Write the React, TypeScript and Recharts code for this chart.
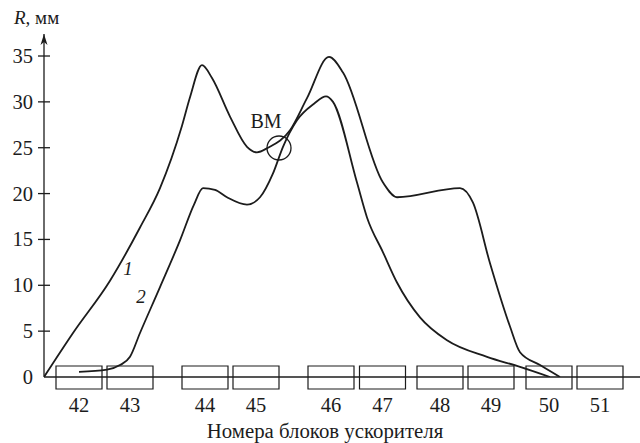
import React from 'react';
import { ComposedChart, Line, XAxis, YAxis, ReferenceArea, ReferenceDot } from 'recharts';

// Block numbers of the accelerator and their positions along the horizontal axis
const blockNumbers = [42, 43, 44, 45, 46, 47, 48, 49, 50, 51];
const blockPositions = [3.5, 8.6, 16.1, 21.2, 28.7, 33.85, 39.6, 44.7, 50.5, 55.6];
const blockHalfWidth = 2.3;
const blockBottom = -1.31;
const blockTop = 1.2;

const yTicks = [0, 5, 10, 15, 20, 25, 30, 35];

// Curve 1
const curve1X = [0, 2.9, 6.6, 9.6, 11.6, 13.8, 14.6, 15.8, 16.8, 18.6, 20.3, 21.3, 22.4, 24.6, 26.3, 28.5, 29.9, 33.9, 35.3, 41.6, 42.9, 44.6, 46.6, 47.6, 49.6, 51.6];
const curve1Y = [0, 4.8, 10.5, 16.3, 20.6, 27.4, 30.5, 34.0, 32.6, 28.4, 25.1, 24.5, 25.0, 26.9, 30.4, 34.9, 33.2, 21.2, 19.6, 20.6, 19.0, 12.4, 5.5, 2.7, 1.3, 0];

// Curve 2
const curve2X = [3.5, 6.3, 7.6, 8.6, 9.6, 11.6, 13.6, 15.0, 15.9, 17.1, 18.3, 20.3, 21.6, 22.9, 23.9, 25.3, 27.0, 28.2, 28.9, 31.3, 32.3, 33.9, 35.3, 37.6, 40.3, 44.3, 47.6, 50.6];
const curve2Y = [0.55, 0.8, 1.3, 2.2, 4.8, 9.8, 14.9, 18.8, 20.6, 20.4, 19.6, 18.8, 19.6, 22.2, 25.1, 28.0, 29.8, 30.6, 30.0, 21.2, 17.4, 13.6, 10.3, 6.5, 4.0, 2.2, 1.1, 0];

const curve1 = curve1X.map((x, i) => ({ x, y: curve1Y[i] }));
const curve2 = curve2X.map((x, i) => ({ x, y: curve2Y[i] }));

const FONT = 'Liberation Serif';
const INK = '#1c1c1c';
const textStyle = { fontFamily: FONT };

const XTick = (props: any) => {
  const { x, y, payload } = props;
  const idx = blockPositions.indexOf(payload.value);
  return (
    <text x={x} y={y + 35} textAnchor="middle" style={textStyle} fontSize={20.5} fill={INK}>
      {idx >= 0 ? blockNumbers[idx] : ''}
    </text>
  );
};

const YTick = (props: any) => {
  const { x, y, payload } = props;
  return (
    <g>
      {payload.value !== 0 && <line x1={x - 6} x2={x + 6} y1={y} y2={y} stroke={INK} strokeWidth={1.3} />}
      <text x={x - 11} y={y + 7} textAnchor="end" style={textStyle} fontSize={20.5} fill={INK}>
        {payload.value}
      </text>
    </g>
  );
};

export default function App() {
  return (
    <div style={{ position: 'absolute', left: 0, top: 0, width: 640, height: 443, background: '#fff' }}>
      <ComposedChart width={640} height={443} margin={{ top: 34, right: 0, bottom: 0, left: 0 }}>
        <XAxis
          type="number"
          dataKey="x"
          domain={[0, 59.6]}
          ticks={blockPositions}
          interval={0}
          height={66}
          axisLine={{ stroke: INK, strokeWidth: 1.3 }}
          tickLine={false}
          tickSize={0}
          tickMargin={0}
          tick={<XTick />}
          allowDataOverflow
          label={{
            content: (p: any) => {
              const vb = p.viewBox;
              return (
                <text x={vb.x + 281} y={vb.y + 61} textAnchor="middle" style={textStyle} fontSize={20.8} fill={INK}>
                  Номера блоков ускорителя
                </text>
              );
            },
          }}
        />
        <YAxis
          type="number"
          domain={[0, 37.4]}
          ticks={yTicks}
          interval={0}
          width={44}
          axisLine={{ stroke: INK, strokeWidth: 1.3 }}
          tickLine={false}
          tickSize={0}
          tickMargin={0}
          tick={<YTick />}
          allowDataOverflow
        />
        {blockPositions.map((p, i) => (
          <ReferenceArea
            key={blockNumbers[i]}
            x1={p - blockHalfWidth}
            x2={p + blockHalfWidth}
            y1={blockBottom}
            y2={blockTop}
            ifOverflow="visible"
            fill="none"
            fillOpacity={0}
            stroke={INK}
            strokeWidth={1.2}
          />
        ))}
        <Line data={curve1} dataKey="y" type="monotone" stroke={INK} strokeWidth={1.8} dot={false} isAnimationActive={false} />
        <Line data={curve2} dataKey="y" type="monotone" stroke={INK} strokeWidth={1.8} dot={false} isAnimationActive={false} />
        {/* Axis arrow and unit label */}
        <ReferenceDot
          x={0}
          y={37.4}
          ifOverflow="visible"
          shape={(p: any) => (
            <g>
              <path d={`M${p.cx},${p.cy} L${p.cx - 3.5},${p.cy + 11} L${p.cx},${p.cy + 8} L${p.cx + 3.5},${p.cy + 11} Z`} fill={INK} />
              <text x={p.cx - 30} y={p.cy - 10} style={textStyle} fontSize={19} fill={INK}>
                <tspan fontStyle="italic">R</tspan>, мм
              </text>
            </g>
          )}
        />
        {/* ВМ circle and label */}
        <ReferenceDot x={23.5} y={24.97} r={12} fill="none" stroke={INK} strokeWidth={1.3} ifOverflow="visible" />
        <ReferenceDot
          x={22.2}
          y={27.9}
          ifOverflow="visible"
          shape={(p: any) => (
            <text x={p.cx} y={p.cy + 7} textAnchor="middle" style={textStyle} fontSize={20} fill={INK}>
              ВМ
            </text>
          )}
        />
        {/* Curve labels */}
        <ReferenceDot
          x={8.4}
          y={11.9}
          ifOverflow="visible"
          shape={(p: any) => (
            <text x={p.cx} y={p.cy + 7} textAnchor="middle" style={textStyle} fontStyle="italic" fontSize={19} fill={INK}>
              1
            </text>
          )}
        />
        <ReferenceDot
          x={9.7}
          y={8.8}
          ifOverflow="visible"
          shape={(p: any) => (
            <text x={p.cx} y={p.cy + 7} textAnchor="middle" style={textStyle} fontStyle="italic" fontSize={19} fill={INK}>
              2
            </text>
          )}
        />
      </ComposedChart>
    </div>
  );
}
